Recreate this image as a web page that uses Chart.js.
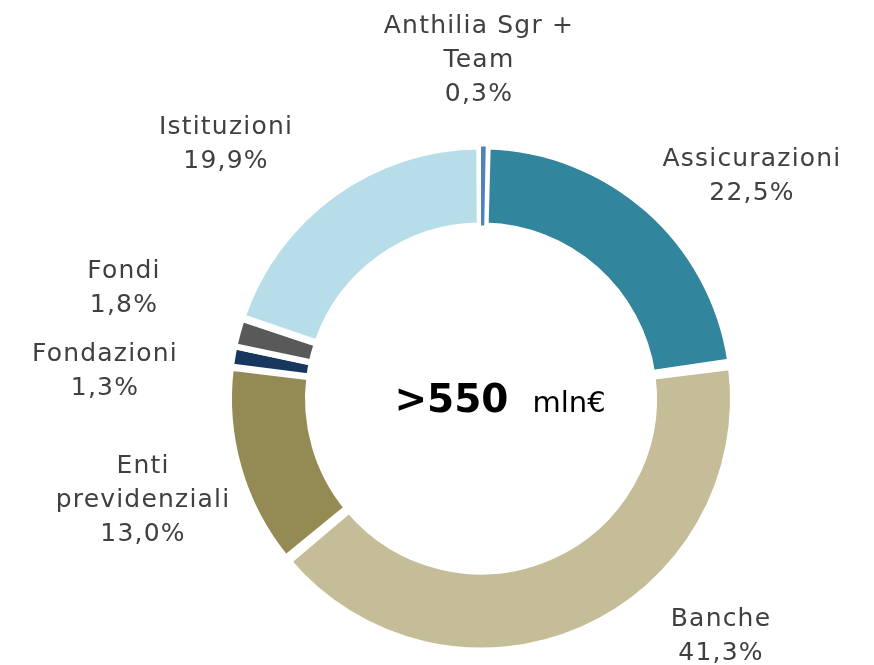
<!DOCTYPE html>
<html lang="it">
<head>
<meta charset="utf-8">
<title>Investitori</title>
<script src="https://cdn.jsdelivr.net/npm/chart.js@4.4.1/dist/chart.umd.min.js"></script>
<style>
    html, body { margin: 0; padding: 0; background: #ffffff; }
    .chart-box { position: relative; width: 874px; height: 665px; }
</style>
</head>
<body>
<div class="chart-box">
    <canvas id="investitoriChart"></canvas>
</div>
<script>
// ==================================================
// 1. DATI
// ==================================================
// ordine orario a partire dalle ore 12
const categorie = ['Anthilia Sgr +\nTeam', 'Assicurazioni', 'Banche', 'Enti\nprevidenziali', 'Fondazioni', 'Fondi', 'Istituzioni'];
const quote = [0.3, 22.5, 41.3, 13.0, 1.3, 1.8, 19.9];
const totaleTesto = '>550';
const unitaTesto = 'mln€';

// ==================================================
// 2. STILI E POSIZIONE ETICHETTE
// ==================================================
const colori = ['#4F81BD', '#31859C', '#C4BD97', '#948A54', '#17375E', '#595959', '#B7DEE8'];
// spostamento del centro etichetta (x) e della prima linea di base (y) rispetto al centro della ciambella
const posEtichette = [
    [-2, -366], [271, -233], [240, 227], [-338, 74], [-376, -38], [-357, -121], [-255, -265]
];
const BORDO = 6;
const SPAZIO = 4.7;
const RAGGIO = 249.65;
const INTERLINEA = 34;
const FONT_ETICHETTE = '25px "DejaVu Sans"';

// ==================================================
// 3. PLUGIN TESTI
// ==================================================
function formatQuota(v) {
    return v.toFixed(1).replace('.', ',') + '%';
}

const testiPlugin = {
    id: 'testi',
    afterDraw(chart) {
        const ctx = chart.ctx;
        const meta = chart.getDatasetMeta(0);
        const arco = meta.data[0];
        const cx = arco.x, cy = arco.y;
        ctx.save();

        // etichette esterne
        ctx.font = FONT_ETICHETTE;
        ctx.fillStyle = '#404040';
        ctx.textAlign = 'center';
        ctx.textBaseline = 'alphabetic';
        try { ctx.letterSpacing = '1.2px'; } catch (e) {}
        categorie.forEach((cat, i) => {
            const righe = cat.split('\n').concat(formatQuota(quote[i]));
            const [dx, dy] = posEtichette[i];
            righe.forEach((r, k) => {
                ctx.fillText(r, cx + dx, cy + dy + k * INTERLINEA);
            });
        });

        // testo centrale
        try { ctx.letterSpacing = '0px'; } catch (e) {}
        ctx.fillStyle = '#000000';
        ctx.textAlign = 'left';
        ctx.font = 'bold 39px "DejaVu Sans"';
        const w1 = ctx.measureText(totaleTesto).width;
        ctx.font = '29px "DejaVu Sans"';
        const w2 = ctx.measureText(unitaTesto).width;
        const gap = 24;
        const x0 = cx + 19 - (w1 + gap + w2) / 2;
        ctx.font = 'bold 39px "DejaVu Sans"';
        ctx.fillText(totaleTesto, x0, cy + 13);
        ctx.font = '29px "DejaVu Sans"';
        ctx.fillText(unitaTesto, x0 + w1 + gap, cy + 13);

        ctx.restore();
    }
};

// ==================================================
// 4. GRAFICO
// ==================================================
function initInvestitoriChart() {
    const el = document.getElementById('investitoriChart');
    if (!el) return;

    // la fetta piccola va disegnata per ultima, cosi' resta visibile sopra i bordi bianchi
    const ordine = [1, 2, 3, 4, 5, 6, 0];
    const totale = quote.reduce((a, b) => a + b, 0);
    const rotazione = quote[0] / totale * 360;

    new Chart(el, {
        type: 'doughnut',
        data: {
            labels: ordine.map(i => categorie[i]),
            datasets: [{
                data: ordine.map(i => quote[i]),
                backgroundColor: ordine.map(i => colori[i]),
                borderColor: '#ffffff',
                borderWidth: ordine.map(i => i === 0 ? 0 : BORDO),
                borderJoinStyle: 'miter',
                borderAlign: 'center',
                spacing: SPAZIO
            }]
        },
        options: {
            responsive: true,
            maintainAspectRatio: false,
            animation: false,
            rotation: rotazione,
            radius: RAGGIO,
            cutout: '68.36%',
            layout: {
                padding: { left: 231, right: 143, top: 148, bottom: 16 }
            },
            plugins: {
                legend: { display: false },
                tooltip: { enabled: false },
                title: { display: false }
            }
        },
        plugins: [testiPlugin]
    });
}

document.addEventListener('DOMContentLoaded', function() {
    initInvestitoriChart();
});
</script>
</body>
</html>
